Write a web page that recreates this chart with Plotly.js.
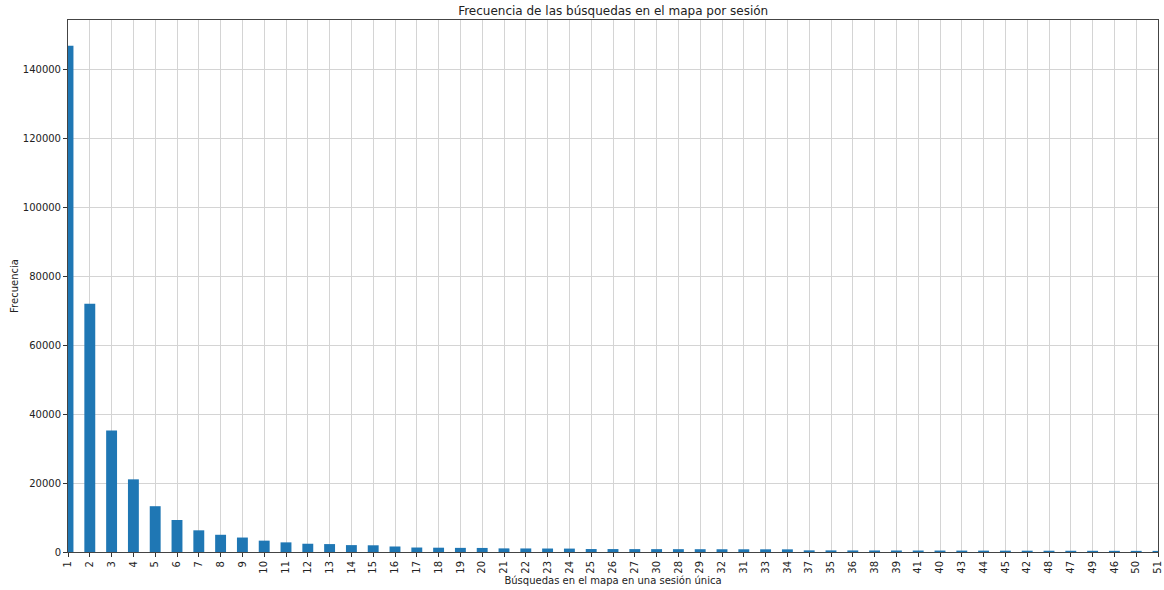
<!DOCTYPE html>
<html>
<head>
<meta charset="utf-8">
<script src="https://cdn.plot.ly/plotly-3.0.1.min.js"></script>
<style>
  html, body { margin: 0; padding: 0; background: #ffffff; }
  #chart { width: 1164px; height: 590px; }
</style>
</head>
<body>
<div id="chart"></div>
<script>
// Number of map searches in a single session (ordered by frequency)
const searchCounts = [
  '1','2','3','4','5','6','7','8','9','10','11','12','13','14','15','16','17','18','19','20',
  '21','22','23','24','25','26','27','30','28','29','32','31','33','34','37','35','36','38',
  '39','41','40','43','44','45','42','48','47','49','46','50','51'
];

// How many sessions had that many searches
const sessionFrequency = [
  147000, 72100, 35300, 21100, 13300, 9300, 6300, 5000, 4200, 3300,
  2800, 2400, 2300, 2000, 1950, 1600, 1300, 1250, 1200, 1180,
  1050, 1030, 1010, 990, 860, 850, 840, 830, 820, 810,
  800, 790, 780, 770, 480, 470, 460, 450, 440, 430,
  420, 410, 400, 390, 380, 370, 360, 350, 340, 330, 320
];

const yTicks = [0, 20000, 40000, 60000, 80000, 100000, 120000, 140000];

const font = { family: 'DejaVu Sans, sans-serif', size: 10, color: '#222222' };

const trace = {
  type: 'bar',
  x: searchCounts,
  y: sessionFrequency,
  marker: { color: '#1f77b4', line: { width: 0 } },
  hoverinfo: 'x+y'
};

const layout = {
  width: 1164,
  height: 590,
  margin: { l: 68, r: 6, t: 20, b: 38 },
  paper_bgcolor: '#ffffff',
  plot_bgcolor: '#ffffff',
  font: font,
  showlegend: false,
  bargap: 0.5,
  title: {
    text: 'Frecuencia de las búsquedas en el mapa por sesión',
    font: { family: 'DejaVu Sans, sans-serif', size: 12, color: '#222222' },
    x: 0.5268, xanchor: 'center',
    y: 0.982, yanchor: 'middle'
  },
  xaxis: {
    type: 'category',
    categoryorder: 'array',
    categoryarray: searchCounts,
    range: [0, searchCounts.length - 1],
    tickangle: -90,
    tickfont: font,
    ticks: 'outside',
    ticklen: 4,
    tickcolor: '#333333',
    showgrid: true,
    gridcolor: '#d4d4d4',
    gridwidth: 1,
    showline: true,
    linecolor: '#444444',
    linewidth: 1,
    mirror: true,
    zeroline: false,
    automargin: false,
    title: {
      text: 'Búsquedas en el mapa en una sesión única',
      font: font,
      standoff: 4
    }
  },
  yaxis: {
    range: [0, 154500],
    tickvals: yTicks,
    ticktext: yTicks.map(String),
    tickfont: font,
    ticks: 'outside',
    ticklen: 4,
    tickcolor: '#333333',
    showgrid: true,
    gridcolor: '#d4d4d4',
    gridwidth: 1,
    showline: true,
    linecolor: '#444444',
    linewidth: 1,
    mirror: true,
    zeroline: false,
    automargin: false,
    title: {
      text: 'Frecuencia',
      font: font,
      standoff: 2
    }
  }
};

Plotly.newPlot('chart', [trace], layout, { displayModeBar: false, staticPlot: true });
</script>
</body>
</html>
